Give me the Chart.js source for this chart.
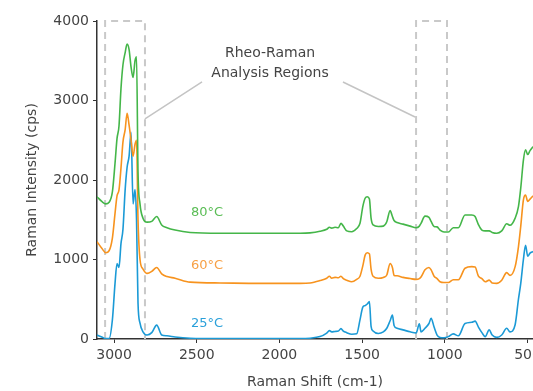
<!DOCTYPE html>
<html>
<head>
<meta charset="utf-8">
<script src="https://cdn.jsdelivr.net/npm/chart.js@4"></script>
<style>
html,body{margin:0;padding:0;background:#fff;overflow:hidden;}
canvas{display:block;}
</style>
</head>
<body>
<canvas id="c" width="533" height="391"></canvas>
<script>
// Raman shift (cm-1), shared by all three spectra
const wavenumbers = [3103,3074,3050,3030,3010,2994,2982,2970,2958,2946,2933,2921,2909,2897,2885,2873,2864,2855,2843,2825,2800,2772,2742,2712,2680,2631,2540,2359,2117,1875,1815,1755,1714,1698,1684,1664,1644,1628,1614,1593,1563,1533,1513,1496,1482,1469,1456,1446,1434,1402,1372,1351,1331,1317,1307,1289,1253,1210,1174,1154,1144,1120,1096,1083,1065,1047,1029,1005,979,949,918,878,837,817,797,776,756,732,714,686,656,626,606,575,555,541,525,512,499,485,467];

const intensity25 = [50,25,5,5,240,700,950,900,1200,1380,1870,2160,2300,2600,1700,1880,1500,450,200,90,50,80,175,50,40,25,10,5,5,5,10,30,75,105,90,95,100,130,100,80,60,65,240,400,420,440,470,160,100,70,90,135,230,300,170,135,115,90,75,190,90,135,195,260,150,50,20,15,30,65,40,195,210,225,150,80,30,115,50,20,50,135,90,180,500,700,1000,1180,1040,1080,1100];

const intensity60 = [1225,1140,1085,1110,1270,1580,1800,1875,2150,2480,2630,2840,2690,2500,2300,2450,2500,1500,1000,880,825,850,900,820,785,765,715,705,700,700,705,735,765,790,765,775,770,790,760,740,720,750,790,920,1055,1085,1070,880,790,765,775,805,950,900,800,795,775,760,750,760,780,870,900,870,790,760,720,710,710,745,745,890,910,905,790,760,720,740,705,700,740,835,800,910,1160,1420,1750,1810,1730,1760,1800];

const intensity80 = [1790,1730,1700,1720,1850,2210,2520,2680,3150,3450,3600,3710,3640,3420,3290,3500,3550,2100,1700,1520,1470,1480,1540,1435,1400,1370,1340,1330,1330,1330,1335,1355,1380,1405,1395,1405,1400,1455,1420,1360,1350,1390,1455,1665,1770,1790,1760,1520,1435,1415,1420,1475,1615,1540,1490,1465,1445,1420,1400,1420,1455,1545,1530,1480,1415,1410,1370,1345,1345,1400,1400,1560,1560,1540,1440,1370,1360,1360,1340,1330,1360,1450,1430,1520,1665,1900,2250,2380,2320,2370,2420];

const seriesLabels = ['25\u00B0C','60\u00B0C','80\u00B0C'];
const xTicks = [3000,2500,2000,1500,1000,500];
const yTicks = [0,1000,2000,3000,4000];
const regions = [[3054,2813],[1174,987]];

const FONT = 'DejaVu Sans';
const TXT = '#444';
const BLUE = '#1b9ad6', ORANGE = '#f7931e', GREEN = '#44b649';

function pts(vals){ return wavenumbers.map((w,i)=>({x:w,y:vals[i]})); }

const annot = {
  id:'annot',
  beforeDatasetsDraw(chart){
    const {ctx, scales:{x,y}} = chart;
    ctx.save();
    ctx.strokeStyle = '#c9c9c9';
    ctx.lineWidth = 2;
    ctx.setLineDash([7,5]);
    regions.forEach(([a,b])=>{
      const x1 = x.getPixelForValue(a), x2 = x.getPixelForValue(b);
      const yt = y.getPixelForValue(4000), yb = y.getPixelForValue(0);
      ctx.beginPath();
      ctx.moveTo(x1,yb); ctx.lineTo(x1,yt); ctx.lineTo(x2,yt); ctx.lineTo(x2,yb);
      ctx.stroke();
    });
    ctx.setLineDash([]);
    ctx.strokeStyle = '#c4c4c4';
    ctx.lineWidth = 1.5;
    ctx.beginPath();
    ctx.moveTo(x.getPixelForValue(2813), y.getPixelForValue(2768));
    ctx.lineTo(x.getPixelForValue(2468), y.getPixelForValue(3233));
    ctx.moveTo(x.getPixelForValue(1616), y.getPixelForValue(3233));
    ctx.lineTo(x.getPixelForValue(1180), y.getPixelForValue(2793));
    ctx.stroke();
    ctx.fillStyle = '#444';
    ctx.font = '14px "' + FONT + '"';
    ctx.textAlign = 'center';
    ctx.textBaseline = 'middle';
    const cx = x.getPixelForValue(2057);
    ctx.fillText('Rheo-Raman', cx, y.getPixelForValue(3598));
    ctx.fillText('Analysis Regions', cx, y.getPixelForValue(3346));
    ctx.restore();
  },
  afterDatasetsDraw(chart){
    const {ctx, scales:{x,y}} = chart;
    ctx.save();
    ctx.font = '13px "' + FONT + '"';
    ctx.textAlign = 'left';
    ctx.textBaseline = 'middle';
    const lx = x.getPixelForValue(2535);
    const pos = [197, 918, 1589];
    const cols = ['#2aa0da','#f7a045','#5abd55'];
    seriesLabels.forEach((t,i)=>{
      ctx.fillStyle = cols[i];
      ctx.fillText(t, lx, y.getPixelForValue(pos[i]));
    });
    ctx.restore();
  }
};

function ds(label, vals, color){
  return {label, data: pts(vals), borderColor: color, backgroundColor: color,
    borderWidth: 1.6, pointRadius: 0, fill: false, tension: 0.35, cubicInterpolationMode: 'monotone'};
}

new Chart(document.getElementById('c'), {
  type: 'line',
  data: { datasets: [
    ds(seriesLabels[2], intensity80, GREEN),
    ds(seriesLabels[1], intensity60, ORANGE),
    ds(seriesLabels[0], intensity25, BLUE)
  ]},
  options: {
    responsive: false,
    animation: false,
    devicePixelRatio: 1,
    layout: { padding: { top: 21, right: 0, left: 0, bottom: 0 } },
    plugins: { legend: { display: false }, tooltip: { enabled: false } },
    scales: {
      x: {
        type: 'linear', reverse: true, min: 467, max: 3103,
        border: { display: true, color: '#333', width: 1.5 },
        grid: { display: true, drawOnChartArea: false, drawTicks: true, tickLength: 4, color: '#333' },
        ticks: { font: { family: FONT, size: 14 }, color: TXT, padding: 4, maxRotation: 0, autoSkip: false, includeBounds: false, callback: v => String(v) },
        afterBuildTicks: s => { s.ticks = xTicks.map(v => ({ value: v })); },
        title: { display: true, text: 'Raman Shift (cm-1)', font: { family: FONT, size: 14 }, color: TXT, padding: { top: 0, bottom: 0 } },
        afterFit: s => { s.paddingLeft = 0; s.paddingRight = 0; s.height = 52; }
      },
      y: {
        type: 'linear', min: 0, max: 4000,
        border: { display: true, color: '#333', width: 1.5 },
        grid: { display: true, drawOnChartArea: false, drawTicks: true, tickLength: 4, color: '#333' },
        ticks: { font: { family: FONT, size: 14 }, color: TXT, padding: 4, stepSize: 1000, callback: v => String(v) },
        afterBuildTicks: s => { s.ticks = yTicks.map(v => ({ value: v })); },
        title: { display: true, text: 'Raman Intensity (cps)', font: { family: FONT, size: 14 }, color: TXT, padding: { top: 24, bottom: 0 } },
        afterFit: s => { s.width = 97; s.paddingTop = 0; s.paddingBottom = 0; }
      }
    }
  },
  plugins: [annot]
});
</script>
</body>
</html>
